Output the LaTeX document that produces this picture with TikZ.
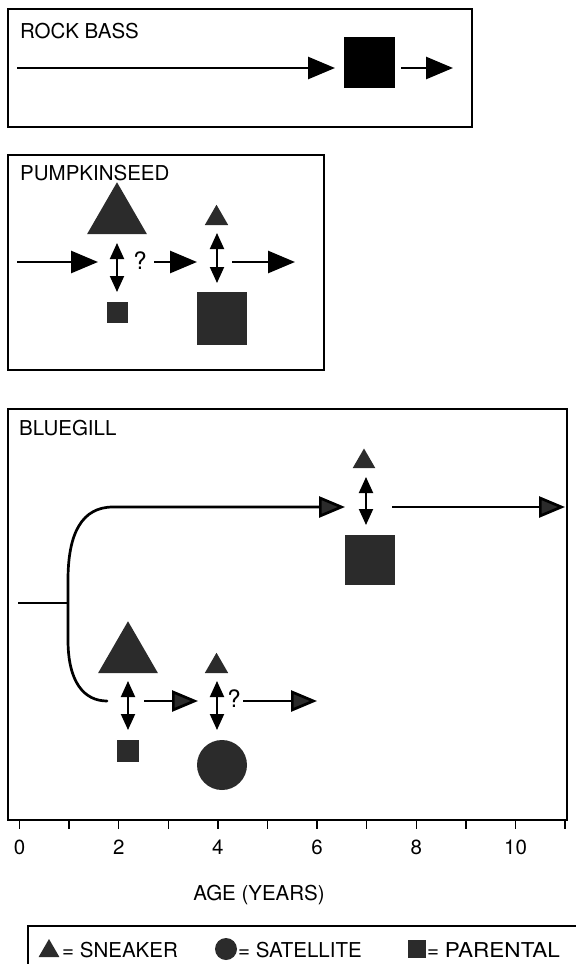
\documentclass[tikz,border=0pt]{standalone}
\usepackage{fontspec}
\setmainfont{TeX Gyre Heros}
\usetikzlibrary{arrows.meta,shapes.geometric}
\definecolor{shade}{HTML}{2B2B2B}
\begin{document}
\begin{tikzpicture}[x=1pt,y=-1pt,
  panel/.style={draw, line width=1.3pt},
  flow/.style={line width=2.7pt, -{Triangle[length=27pt,width=22pt]}},
  flowg/.style={line width=2.7pt, -{Triangle[length=26pt,width=21pt,fill=shade]}},
  swap/.style={line width=1.9pt, {Triangle[length=16pt,width=14pt]}-{Triangle[length=16pt,width=14pt]}},
  tri/.style={regular polygon, regular polygon sides=3, fill=shade, inner sep=0pt, outer sep=0pt, anchor=south},
  sq/.style={rectangle, fill=shade, inner sep=0pt, outer sep=0pt},
  dot/.style={circle, fill=shade, inner sep=0pt, outer sep=0pt},
  lbl/.style={font=\fontsize{20.5}{24}\selectfont, inner sep=0pt, anchor=base west},
  txt/.style={font=\fontsize{20.5}{24}\selectfont, inner sep=0pt},
  qm/.style={font=\fontsize{24}{28}\selectfont, inner sep=0pt},
  tick/.style={line width=1.5pt},
]
\useasboundingbox (0,0) rectangle (576,964);

% ---------------- ROCK BASS ----------------
\draw[panel] (8,9) rectangle (472,127);
\node[lbl] (rbT) at (20,38) {ROCK BASS};
\node[sq, fill=black, minimum width=51pt, minimum height=51pt] (rbS) at (369,62.5) {};
\coordinate (rbA) at (17,68);
\coordinate (rbB) at (335,68);
\coordinate (rbC) at (401,68);
\coordinate (rbD) at (453,68);
\draw[flow] (rbA) -- (rbB);
\draw[flow] (rbC) -- (rbD);

% ---------------- PUMPKINSEED ----------------
\draw[panel] (8,155) rectangle (324,370);
\node[lbl] (psT) at (20,180) {PUMPKINSEED};
\node[tri, minimum size=69pt] (psT1) at (117,234) {};
\node[sq, minimum size=21pt] (psS1) at (117.5,312.5) {};
\node[tri, minimum size=27pt] (psT2) at (216.5,225) {};
\node[sq, minimum width=50pt, minimum height=53pt] (psS2) at (222,318.5) {};
\node[qm] (psQ) at (140,261) {?};
\coordinate (psA) at (17,262);
\coordinate (psB) at (98,262);
\coordinate (psC) at (154,262);
\coordinate (psD) at (197,262);
\coordinate (psE) at (232,262);
\coordinate (psF) at (295,262);
\coordinate (psU1) at (117,243);
\coordinate (psL1) at (117,292);
\coordinate (psU2) at (217,233);
\coordinate (psL2) at (217,283);
\draw[flow] (psA) -- (psB);
\draw[flow] (psC) -- (psD);
\draw[flow] (psE) -- (psF);
\draw[swap] (psU1) -- (psL1);
\draw[swap] (psU2) -- (psL2);

% ---------------- BLUEGILL ----------------
\draw[panel] (8,409) rectangle (567,820);
\node[lbl] (bgT) at (19,435) {BLUEGILL};
\coordinate (bgStem) at (18,603);
\coordinate (bgFork) at (68,603);
\coordinate (bgLow) at (107,701);
\coordinate (bgTopTip) at (345,507);
\draw[line width=2.2pt] (bgStem) -- (bgFork);
\draw[flowg, line cap=round] (bgLow) .. controls (84,701) and (68,682) .. (68,640)
   -- (68,580) .. controls (68,533) and (82,507) .. (113,507) -- (bgTopTip);
% upper branch
\node[tri, minimum size=26pt] (bgT3) at (364,468) {};
\node[sq, minimum size=50pt] (bgS3) at (370,560) {};
\coordinate (bgU3) at (366,477);
\coordinate (bgL3) at (366,525);
\draw[swap] (bgU3) -- (bgL3);
\coordinate (bgG) at (392,507);
\coordinate (bgH) at (565,507);
\draw[flowg] (bgG) -- (bgH);
% lower branch
\node[tri, minimum size=69pt] (bgT1) at (128,673) {};
\node[sq, minimum size=22pt] (bgS1) at (128,750.5) {};
\node[tri, minimum size=27pt] (bgT2) at (216.5,673) {};
\node[dot, minimum size=50pt] (bgC2) at (222,765) {};
\node[qm] (bgQ) at (234,699) {?};
\coordinate (bgU1) at (128,681);
\coordinate (bgL1) at (128,730);
\coordinate (bgU2) at (217,681);
\coordinate (bgL2) at (217,730);
\draw[swap] (bgU1) -- (bgL1);
\draw[swap] (bgU2) -- (bgL2);
\coordinate (bgA) at (144,701);
\coordinate (bgB) at (198,701);
\coordinate (bgC) at (243,701);
\coordinate (bgD) at (317,701);
\draw[flowg] (bgA) -- (bgB);
\draw[flowg] (bgC) -- (bgD);

% ---------------- AXIS ----------------
\foreach \k in {0,...,11} {
  \coordinate (ta\k) at ({19.5+49.6*\k},820);
  \coordinate (tb\k) at ({19.5+49.6*\k},829);
  \draw[tick] (ta\k) -- (tb\k);
}
\foreach \k in {0,2,4,6,8,10} {
  \node[txt] (tl\k) at ({19.5+49.6*\k},847) {\k};
}
\node[txt] (axT) at (259,895) {AGE (YEARS)};

% ---------------- LEGEND ----------------
\coordinate (lg1) at (28,964);
\coordinate (lg2) at (28,926);
\coordinate (lg3) at (576,926);
\draw[line width=1.3pt] (lg1) -- (lg2) -- (lg3);
\node[tri, minimum size=24pt] (lgT) at (49,957) {};
\node[lbl] (lgTt) at (62,957) {= SNEAKER};
\node[dot, minimum size=22pt] (lgC) at (226,949) {};
\node[lbl] (lgCt) at (238,957) {= SATELLITE};
\node[sq, minimum size=18pt] (lgS) at (417,949) {};
\node[lbl] (lgSt) at (427,957) {= \scalebox{1.1}[1]{PARENTAL}};
\end{tikzpicture}
\end{document}
